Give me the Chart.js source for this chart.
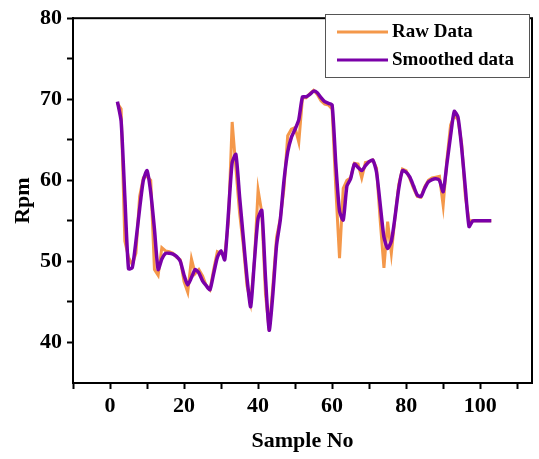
<!DOCTYPE html>
<html>
<head>
<meta charset="utf-8">
<script src="https://cdn.jsdelivr.net/npm/chart.js@4"></script>
<style>
  html, body { margin: 0; padding: 0; background: #fff; }
  #wrap { width: 539px; height: 459px; }
</style>
</head>
<body>
<div id="wrap"><canvas id="rpm_graph"></canvas></div>
<script>
// ----------------------------- data ---------------------- >>
const sampleNo = [2, 3, 4, 5, 6, 7, 8, 9, 10, 11, 12, 13, 14, 15, 16, 17, 18, 19, 20, 21,
    22, 23, 24, 25, 26, 27, 28, 29, 30, 31, 32, 33, 34, 35, 36, 37, 38, 39, 40, 41,
    42, 43, 44, 45, 46, 47, 48, 49, 50, 51, 52, 53, 54, 55, 56, 57, 58, 59, 60, 61,
    62, 63, 64, 65, 66, 67, 68, 69, 70, 71, 72, 73, 74, 75, 76, 77, 78, 79, 80, 81,
    82, 83, 84, 85, 86, 87, 88, 89, 90, 91, 92, 93, 94, 95, 96, 97, 98, 99, 100, 101,
    102, 103];

const rawData = [69.5, 68.8, 52.5, 50.5, 49.6, 51.0, 58.0, 60.3, 60.5, 60.0,
    49.0, 48.3, 51.7, 51.3, 51.2, 51.0, 50.5, 50.2, 47.5, 46.2,
    50.3, 48.5, 49.0, 48.2, 47.0, 46.5, 49.0, 51.2, 51.0, 50.8,
    55.0, 67.2, 61.5, 56.0, 52.0, 47.0, 44.9, 50.0, 58.8, 56.0,
    46.0, 41.5, 47.0, 53.0, 55.3, 59.0, 65.5, 66.3, 66.5, 64.7,
    70.2, 70.2, 70.7, 71.1, 70.6, 69.8, 69.4, 69.3, 68.8, 59.0,
    50.4, 59.0, 60.0, 60.3, 62.1, 62.0, 60.3, 62.2, 62.3, 62.5,
    61.5, 55.0, 49.2, 54.9, 51.0, 55.5, 59.5, 61.4, 61.2, 60.2,
    59.0, 58.0, 57.9, 59.2, 60.0, 60.3, 60.4, 60.5, 56.9, 62.5,
    66.8, 68.0, 67.5, 64.5, 58.0, 55.0, 55.0, 55.0, 55.0, 55.0,
    55.0, 55.0];

const smoothedData = [69.7, 67.3, 58.0, 49.1, 49.2, 52.5, 56.5, 60.0, 61.2, 58.5,
    54.0, 49.0, 50.3, 51.0, 51.0, 50.9, 50.6, 50.0, 48.3, 47.1,
    48.0, 49.0, 48.6, 47.6, 47.0, 46.5, 48.5, 50.5, 51.3, 50.2,
    56.0, 62.2, 63.2, 58.0, 53.0, 48.0, 44.4, 50.0, 55.3, 56.3,
    48.0, 41.5, 46.0, 52.0, 55.1, 60.0, 63.5, 65.3, 66.3, 67.5,
    70.3, 70.3, 70.6, 71.0, 70.8, 70.2, 69.7, 69.5, 69.3, 62.0,
    56.2, 55.1, 59.3, 60.2, 62.0, 61.6, 61.2, 61.8, 62.3, 62.5,
    61.0, 57.0, 53.0, 51.6, 52.5, 55.5, 59.0, 61.2, 61.0, 60.4,
    59.3, 58.2, 58.0, 59.0, 59.8, 60.1, 60.2, 60.0, 58.6, 62.0,
    65.5, 68.5, 67.8, 64.0, 59.0, 54.3, 55.0, 55.0, 55.0, 55.0,
    55.0, 55.0];

const xMajor = [0, 20, 40, 60, 80, 100];
const xMinor = [-10, 10, 30, 50, 70, 90, 110];
const yMajor = [40, 50, 60, 70, 80];
const yMinor = [45, 55, 65, 75];

const seriesNames = ['Raw Data', 'Smoothed data'];
const seriesColors = ['#f4984a', '#7a00a8'];

// ----------------------------- helpers ---------------------- >>
const serif = "'Liberation Serif', 'Times New Roman', serif";

function toPoints(values) {
    return values.map((v, i) => ({ x: sampleNo[i], y: v }));
}

// frame + boxed legend, drawn after the datasets
const framePlugin = {
    id: 'frame',
    afterDraw(chart) {
        const { ctx, chartArea } = chart;
        ctx.save();
        ctx.strokeStyle = '#000';
        ctx.lineWidth = 2;
        ctx.strokeRect(chartArea.left, chartArea.top,
            chartArea.right - chartArea.left, chartArea.bottom - chartArea.top);

        // legend
        const bx = 325, by = 14, bw = 204, bh = 63;
        ctx.fillStyle = '#fff';
        ctx.fillRect(bx, by, bw, bh);
        ctx.lineWidth = 1;
        ctx.strokeStyle = '#555';
        ctx.strokeRect(bx + 0.5, by + 0.5, bw, bh);
        ctx.font = "bold 19px " + serif;
        ctx.textBaseline = 'middle';
        chart.data.datasets.forEach((ds, i) => {
            const cy = by + 18 + i * 28;
            ctx.strokeStyle = ds.borderColor;
            ctx.lineWidth = 3;
            ctx.beginPath();
            ctx.moveTo(bx + 12, cy);
            ctx.lineTo(bx + 63, cy);
            ctx.stroke();
            ctx.fillStyle = '#000';
            ctx.fillText(ds.label, bx + 67, cy);
        });
        ctx.restore();
    }
};

// ----------------------------- graph ---------------------- >>
const ctx = document.getElementById('rpm_graph').getContext('2d');
const myChart = new Chart(ctx, {
    type: 'line',
    data: {
        datasets: [{
            label: seriesNames[0],
            data: toPoints(rawData),
            borderColor: seriesColors[0],
            borderWidth: 3,
            pointRadius: 0,
            tension: 0,
            order: 1
        }, {
            label: seriesNames[1],
            data: toPoints(smoothedData),
            borderColor: seriesColors[1],
            borderWidth: 3.5,
            pointRadius: 0,
            tension: 0.2,
            order: 0
        }]
    },
    options: {
        responsive: true,
        maintainAspectRatio: false,
        animation: false,
        layout: { padding: { top: 13, right: 7, left: 0, bottom: 0 } },
        plugins: {
            legend: { display: false },
            tooltip: { enabled: false }
        },
        scales: {
            x: {
                type: 'linear',
                min: -10,
                max: 114,
                afterBuildTicks: (scale) => {
                    scale.ticks = xMinor.concat(xMajor).sort((a, b) => a - b).map(v => ({ value: v }));
                },
                afterFit: (scale) => { scale.height = 76; },
                border: { color: '#000', width: 2 },
                grid: { drawOnChartArea: false, tickLength: 6, tickWidth: 2, tickColor: '#000' },
                ticks: {
                    color: '#000',
                    padding: 4,
                    maxRotation: 0,
                    autoSkip: false,
                    font: { family: serif, size: 22, weight: 'bold' },
                    callback: (v) => xMajor.includes(v) ? String(v) : ''
                },
                title: {
                    display: true,
                    text: 'Sample No',
                    color: '#000',
                    padding: { top: 0, bottom: 4 },
                    font: { family: serif, size: 22, weight: 'bold' }
                }
            },
            y: {
                min: 35,
                max: 80,
                afterBuildTicks: (scale) => {
                    scale.ticks = yMinor.concat(yMajor).sort((a, b) => a - b).map(v => ({ value: v }));
                },
                afterFit: (scale) => { scale.width = 73; },
                border: { color: '#000', width: 2 },
                grid: { drawOnChartArea: false, tickLength: 6, tickWidth: 2, tickColor: '#000' },
                ticks: {
                    color: '#000',
                    padding: 5,
                    autoSkip: false,
                    font: { family: serif, size: 22, weight: 'bold' },
                    callback: (v) => yMajor.includes(v) ? String(v) : ''
                },
                title: {
                    display: true,
                    text: 'Rpm',
                    color: '#000',
                    padding: { top: 10, bottom: 0 },
                    font: { family: serif, size: 22, weight: 'bold' }
                }
            }
        }
    },
    plugins: [framePlugin]
});
</script>
</body>
</html>
